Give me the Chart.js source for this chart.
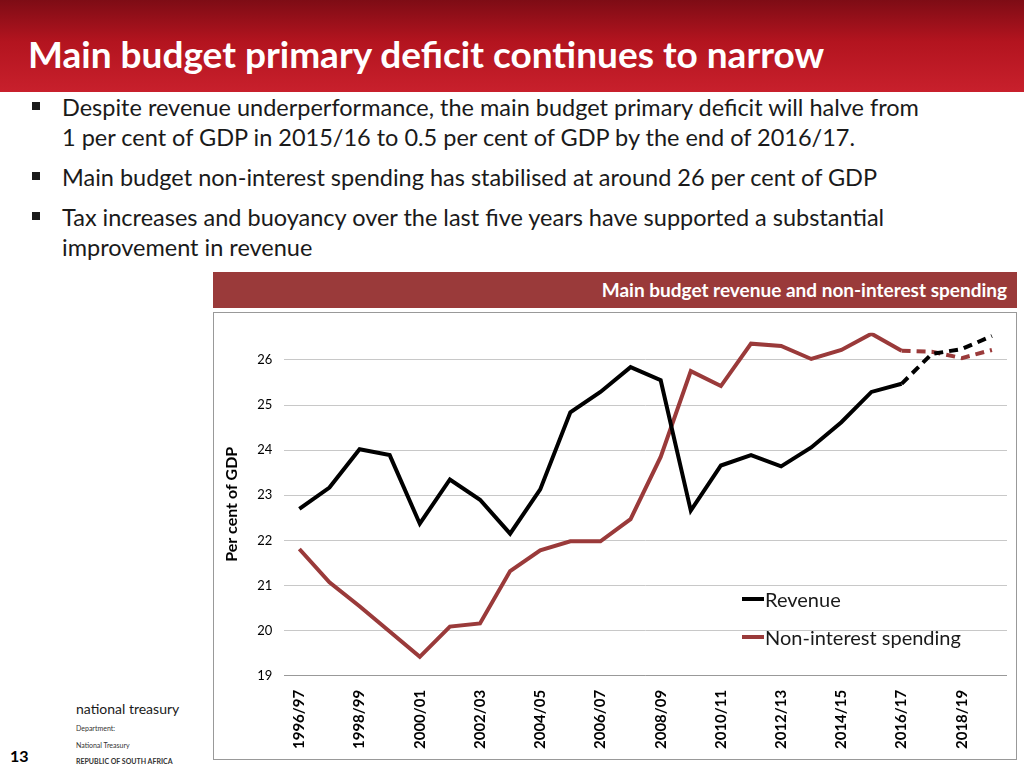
<!DOCTYPE html>
<html>
<head>
<meta charset="utf-8">
<script src="https://cdn.jsdelivr.net/npm/chart.js@4"></script>
<style>
  body { margin: 0; width: 1024px; height: 768px; position: relative; background: #fff; font-family: Lato, "Open Sans", sans-serif; overflow: hidden; }
  #header { position: absolute; left: 0; top: 0; width: 1024px; height: 92px; background: linear-gradient(180deg, #7e0c15 0%, #b3141f 45%, #c8202c 100%); }
  #header h1 { margin: 0; position: absolute; left: 28px; top: 31px; color: #fff; font-size: 37px; font-weight: bold; }
  ul { position: absolute; left: 28px; top: 92px; margin: 0; padding: 0; list-style: none; font-size: 23.5px; color: #1a1a1a; width: 910px; }
  li { position: relative; padding-left: 34px; line-height: 30px; margin-bottom: 10px; }
  li::before { content: ""; position: absolute; left: 4px; top: 10px; width: 8px; height: 8px; background: #1a1a1a; }
  #subtitle { position: absolute; left: 213px; top: 272px; width: 804px; height: 36px; background: #9a3a3a; color: #fff; font-weight: bold; font-size: 19px; text-align: right; line-height: 36px; box-sizing: border-box; padding-right: 10px; }
  #box { position: absolute; left: 213px; top: 312px; width: 802px; height: 446px; border: 1px solid #999; }
  #legend { position: absolute; left: 742px; top: 580px; font-size: 20px; color: #1a1a1a; }
  .li { height: 38px; display: flex; align-items: center; }
  .sw { width: 22px; height: 4px; margin-right: 1px; }
  #num { position: absolute; left: 10px; top: 746px; font-weight: bold; font-size: 16px; }
  #logo { position: absolute; left: 76px; top: 700px; color: #333; line-height: 1.05; }
</style>
</head>
<body>
<div id="header"><h1>Main budget primary deficit continues to narrow</h1></div>
<ul>
  <li>Despite revenue underperformance, the main budget primary deficit will halve from 1 per cent of GDP in 2015/16 to 0.5 per cent of GDP by the end of 2016/17.</li>
  <li>Main budget non-interest spending has stabilised at around 26 per cent of GDP</li>
  <li>Tax increases and buoyancy over the last five years have supported a substantial improvement in revenue</li>
</ul>
<div id="subtitle">Main budget revenue and non-interest spending</div>
<div id="box"><canvas id="c" width="802" height="446"></canvas></div>
<div id="legend">
  <div class="li"><div class="sw" style="background:#000"></div>Revenue</div>
  <div class="li"><div class="sw" style="background:#9a3a3a"></div>Non-interest spending</div>
</div>
<div id="logo"><span style="font-size:14px;color:#1a1a1a">national treasury</span><br><span style="font-size:7px">Department:<br>National Treasury<br><b>REPUBLIC OF SOUTH AFRICA</b></span></div>
<div id="num">13</div>
<script>
// Fiscal years
const years = ['1996/97','1997/98','1998/99','1999/00','2000/01','2001/02','2002/03','2003/04',
  '2004/05','2005/06','2006/07','2007/08','2008/09','2009/10','2010/11','2011/12',
  '2012/13','2013/14','2014/15','2015/16','2016/17','2017/18','2018/19','2019/20'];

// Per cent of GDP
const revenue = [22.70, 23.17, 24.02, 23.89, 22.37, 23.35, 22.90, 22.15,
  23.13, 24.84, 25.29, 25.84, 25.55, 22.66, 23.66, 23.89,
  23.64, 24.06, 24.62, 25.29, 25.47, 26.13, 26.24, 26.53];
const nonInterest = [21.81, 21.07, 20.54, 19.98, 19.42, 20.09, 20.16, 21.32,
  21.78, 21.98, 21.98, 22.47, 23.85, 25.75, 25.42, 26.36,
  26.31, 26.02, 26.22, 26.58, 26.20, 26.18, 26.04, 26.22];

// first projected year (dashed from here on)
const estStart = 20;

const dashed = ctx => ctx.p0DataIndex >= estStart ? [9, 6] : undefined;

new Chart(document.getElementById('c'), {
  type: 'line',
  data: {
    labels: years,
    datasets: [
      { label: 'Revenue', data: revenue, borderColor: '#000', borderWidth: 4, pointRadius: 0, tension: 0, segment: { borderDash: dashed } },
      { label: 'Non-interest spending', data: nonInterest, borderColor: '#9a3a3a', borderWidth: 4, pointRadius: 0, tension: 0, segment: { borderDash: dashed } }
    ]
  },
  options: {
    responsive: false,
    animation: false,
    layout: { padding: { top: 2, right: 4, left: 4, bottom: 4 } },
    plugins: { legend: { display: false }, tooltip: { enabled: false } },
    scales: {
      x: {
        offset: true,
        grid: { display: false },
        border: { color: '#999' },
        ticks: {
          autoSkip: false, maxRotation: 90, minRotation: 90, color: '#000',
          font: { family: 'Lato', size: 15, weight: 'bold' }, padding: 6,
          callback: (v, i) => i % 2 === 0 ? years[i] : ''
        }
      },
      y: {
        min: 19, max: 26.6,
        afterBuildTicks: axis => { axis.ticks = axis.ticks.filter(t => Number.isInteger(t.value)); },
        ticks: { stepSize: 1, color: '#000', font: { family: 'Lato', size: 13 }, padding: 12 },
        grid: { color: '#c8c8c8', drawTicks: false },
        border: { display: false },
        title: { display: true, text: 'Per cent of GDP', color: '#000', font: { family: 'Lato', size: 16, weight: 'bold' } }
      }
    }
  }
});
</script>
</body>
</html>
